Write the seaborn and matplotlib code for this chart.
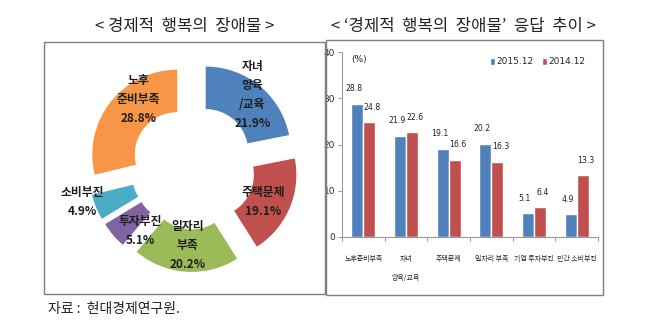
import matplotlib
matplotlib.use("Agg")
import matplotlib.pyplot as plt
from matplotlib.patches import Rectangle
from matplotlib import font_manager
import numpy as np
import pandas as pd
import seaborn as sns

# ---------------- data ----------------
pie_labels = ["자녀\n양육\n/교육", "주택문제", "일자리\n부족", "투자부진", "소비부진", "노후\n준비부족"]
pie_values = [21.9, 19.1, 20.2, 5.1, 4.9, 28.8]

bar_categories = ["노후준비부족", "자녀\n양육/교육", "주택문제", "일자리 부족", "기업 투자부진", "민간 소비부진"]
values_2015 = [28.8, 21.9, 19.1, 20.2, 5.1, 4.9]
values_2014 = [24.8, 22.6, 16.6, 16.3, 6.4, 13.3]
series_names = ["2015.12", "2014.12"]
y_ticks = [0, 10, 20, 30, 40]

left_title = "< 경제적  행복의  장애물 >"
right_title = "< ‘경제적  행복의  장애물’  응답  추이 >"
source_text = "자료 :  현대경제연구원."

# ---------------- style ----------------
sns.set_theme(style="white")
plt.rcParams["font.family"] = ["Noto Sans CJK KR", "DejaVu Sans"]
names = {f.name for f in font_manager.fontManager.ttflist}
num_family = ["DejaVu Sans Condensed"] if "DejaVu Sans Condensed" in names else ["Liberation Sans Narrow"] if "Liberation Sans Narrow" in names else ["DejaVu Sans"]
num_family = num_family + ["Noto Sans CJK KR"]

pie_colors = ["#4F81BD", "#C0504D", "#9BBB59", "#8064A2", "#4BACC6", "#F79646"]
bar_colors = ["#4F81BD", "#C0504D"]
# label placement per wedge: (radius factor, angle nudge in degrees)
label_place = [(1.10, 0), (0.92, -3), (0.92, 0), (0.97, 10), (1.37, -5), (1.02, -13)]
label_nudge = [-2.2, 2.2]  # horizontal offset (points) of value labels per series

fig = plt.figure(figsize=(6.5, 3.31), dpi=100)
W, H = 650, 331

def fx(px):
    return px / W

def fy(py):
    return 1 - py / H

# panel frames
fig.add_artist(Rectangle((fx(44), fy(294)), fx(325) - fx(44), fy(42) - fy(294),
                         transform=fig.transFigure, fill=False, edgecolor="#7f7f7f", lw=1.0))
fig.add_artist(Rectangle((fx(326), fy(295)), fx(603) - fx(326), fy(40) - fy(295),
                         transform=fig.transFigure, fill=False, edgecolor="#7f7f7f", lw=1.0))

fig.text(fx(185), fy(27), left_title, ha="center", va="center", fontsize=12, color="#222222")
fig.text(fx(463), fy(27), right_title, ha="center", va="center", fontsize=12, color="#222222")
fig.text(fx(48), fy(309), source_text, ha="left", va="center", fontsize=10, color="#222222")

# ---------------- donut ----------------
S = 240
cx, cy = 193, 167
ax_pie = fig.add_axes([fx(cx - S / 2), fy(cy + S / 2), S / W, S / H])
explode = [0.235] * len(pie_values)
wedges, _ = ax_pie.pie(pie_values, colors=pie_colors, startangle=90, counterclock=False,
                       explode=explode, radius=1.0,
                       wedgeprops=dict(width=0.5, edgecolor="none"))
L = S / 2 / 85.0
ax_pie.set_xlim(-L, L)
ax_pie.set_ylim(-L, L)
ax_pie.set_aspect("equal")
ax_pie.axis("off")
for w, lab, val, (rf, dang) in zip(wedges, pie_labels, pie_values, label_place):
    ang = np.deg2rad((w.theta1 + w.theta2) / 2 + dang)
    x, y = rf * np.cos(ang), rf * np.sin(ang)
    ax_pie.text(x, y, f"{lab}\n{val:.1f}%", ha="center", va="center", fontsize=8.5,
                fontweight="bold", color="#1e1e1e", linespacing=1.6)

# ---------------- bars ----------------
ax = fig.add_axes([fx(342), fy(237), fx(598) - fx(342), fy(52) - fy(237)])
df = pd.DataFrame({
    "cat": bar_categories * 2,
    "val": values_2015 + values_2014,
    "series": [series_names[0]] * len(bar_categories) + [series_names[1]] * len(bar_categories),
})
sns.barplot(data=df, x="cat", y="val", hue="series", palette=bar_colors, ax=ax,
            width=0.57, saturation=1, legend=True)
ax.set_xlim(-0.5, len(bar_categories) - 0.5)
ax.set_ylim(0, 40)
ax.set_yticks(y_ticks)
ax.set_yticklabels([str(t) for t in y_ticks], fontsize=6.5, family=num_family)
ax.set_xlabel("")
ax.set_ylabel("")
ax.set_xticks(range(len(bar_categories)))
ax.set_xticklabels(bar_categories, fontsize=5.0, linespacing=2.9, va="top")
ax.tick_params(axis="x", length=0, pad=13)
ax.tick_params(axis="y", length=3, width=0.6, color="#888888", pad=2, left=True)
# boundary ticks between categories
ax.set_xticks(np.arange(-0.5, len(bar_categories), 1.0), minor=True)
ax.tick_params(axis="x", which="minor", length=3, width=0.6, color="#888888", bottom=True)
for side in ["top", "right"]:
    ax.spines[side].set_visible(False)
for side in ["left", "bottom"]:
    ax.spines[side].set_color("#999999")
    ax.spines[side].set_linewidth(0.8)

for cont, dx in zip(ax.containers, label_nudge):
    for bar in cont:
        h = bar.get_height()
        ax.annotate(f"{h:.1f}", (bar.get_x() + bar.get_width() / 2, h),
                    xytext=(dx, 11), textcoords="offset points", ha="center", va="center",
                    fontsize=5.6, color="#222222", family=num_family)

ax.text(0.035, 0.985, "(%)", transform=ax.transAxes, ha="left", va="top", fontsize=6.5,
        color="#222222", family=num_family)
leg = ax.legend(loc="upper right", bbox_to_anchor=(0.97, 1.0), ncol=2, frameon=False,
                prop=dict(family=num_family, size=6.5), handlelength=0.5, handleheight=0.9,
                handletextpad=0.15, columnspacing=1.0, borderaxespad=0.2)

fig.savefig("out.png", dpi=100)
